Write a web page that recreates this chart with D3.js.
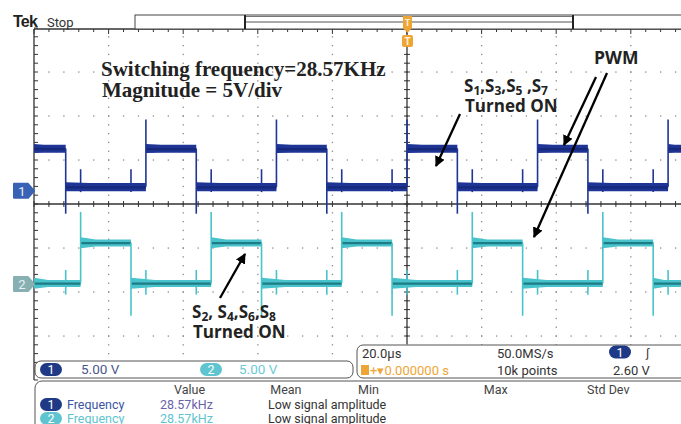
<!DOCTYPE html>
<html>
<head>
<meta charset="utf-8">
<script src="https://cdn.jsdelivr.net/npm/d3@7"></script>
<style>
body{margin:0;background:#fff}
</style>
</head>
<body>
<script>
// edge times in µs (trigger at t=0)
var ch1Rise = [-70, -35, 0, 35, 70]
var ch1Fall = [-91.5, -56.5, -21.5, 13.5, 48.5]
var ch2Rise = [-87.5, -52.5, -17.5, 17.5, 52.5]
var ch2Fall = [-74, -39, -4, 31, 66]
// [low, high] level in volts
var ch1Level = [0.45, 4.8]
var ch2Level = [0.1, 4.7]
// [undershoot at falling edge, overshoot at rising edge], volts
var ch1Spike = [-2.6, 8.1]
var ch2Spike = [-3.6, 8.2]
// small glitch caused by the other channel switching, volts
var ch1Cross = [-0.6, 2.0]
var ch2Cross = [-1.3, 1.5]

var measCols = ['Value', 'Mean', 'Min', 'Max', 'Std Dev']
var measRows = [
	{ch: '1', name: 'Frequency', value: '28.57kHz', mean: 'Low signal amplitude'},
	{ch: '2', name: 'Frequency', value: '28.57kHz', mean: 'Low signal amplitude'}
]

var width = 681, height = 424
var col1 = '#1f3595', col2 = '#48c3cb', col2b = '#1d7c85', orange = '#eea536'

var svg = d3.select('body').append('svg')
	.attr('width', width).attr('height', height)
	.attr('font-family', 'Roboto,"Liberation Sans",sans-serif')

var defs = svg.append('defs')
defs.append('marker').attr('id', 'ah')
	.attr('viewBox', '0 0 10 10').attr('refX', 9).attr('refY', 5)
	.attr('markerWidth', 4.5).attr('markerHeight', 4.5).attr('orient', 'auto')
	.append('path').attr('d', 'M0,0L10,5L0,10z').attr('fill', '#000')

// 20 µs/div, 10 div; 5 V/div, 8 div
var x = d3.scaleLinear().domain([-100, 100]).range([34, 780])
var yDiv = d3.scaleLinear().domain([-4, 4]).range([380, 28])
var offs = {1: 0.3, 2: -1.82}
function yv(ch, v) { return yDiv(offs[ch] + v / 5) }

var clipTop = 344
var g = svg.append('g')

// ---------- graticule ----------
var dots = []
for (var i = -5; i <= 5; i++) {
	for (var j = -20; j <= 20; j++) dots.push([x(i * 20), yDiv(j / 5)])
}
for (var j = -4; j <= 4; j++) {
	for (var i = -25; i <= 25; i++) dots.push([x(i * 4), yDiv(j)])
}
g.selectAll('rect.dot').data(dots.filter(d => d[0] > 35 && d[0] < 681 && d[1] > 30 && d[1] < 380))
	.enter().append('rect').attr('class', 'dot')
	.attr('x', d => d[0] - 0.6).attr('y', d => d[1] - 0.6)
	.attr('width', 1.3).attr('height', 1.3).attr('fill', '#8a8a8a')

// centre cross + frame edges
g.append('line').attr('x1', 34).attr('x2', 681).attr('y1', yDiv(0)).attr('y2', yDiv(0))
	.attr('stroke', '#333').attr('stroke-width', 1.3)
g.append('line').attr('x1', x(0)).attr('x2', x(0)).attr('y1', 29).attr('y2', clipTop)
	.attr('stroke', '#333').attr('stroke-width', 1.3)
g.append('line').attr('x1', 34).attr('x2', 34).attr('y1', 29).attr('y2', 380)
	.attr('stroke', '#333').attr('stroke-width', 1.3)
g.append('line').attr('x1', 34).attr('x2', 681).attr('y1', 29).attr('y2', 29)
	.attr('stroke', '#333').attr('stroke-width', 1.3)

var hTicks = d3.range(-100, 100.1, 4).filter(t => x(t) < 681)
g.selectAll('line.ht').data(hTicks).enter().append('line')
	.attr('x1', d => x(d)).attr('x2', d => x(d))
	.attr('y1', yDiv(0) - 3).attr('y2', yDiv(0) + 3)
	.attr('stroke', '#333')
g.selectAll('line.tt').data(hTicks).enter().append('line')
	.attr('x1', d => x(d)).attr('x2', d => x(d))
	.attr('y1', 29).attr('y2', d => d % 20 == 0 ? 34 : 32)
	.attr('stroke', '#333')
var vTicks = d3.range(-4, 4.01, 0.2)
g.selectAll('line.vt').data(vTicks.filter(d => yDiv(d) < clipTop)).enter().append('line')
	.attr('x1', x(0) - 3).attr('x2', x(0) + 3)
	.attr('y1', d => yDiv(d)).attr('y2', d => yDiv(d))
	.attr('stroke', '#333')
g.selectAll('line.lt').data(vTicks).enter().append('line')
	.attr('x1', 34).attr('x2', 38)
	.attr('y1', d => yDiv(d)).attr('y2', d => yDiv(d))
	.attr('stroke', '#333')

// ---------- traces ----------
function segments(rise, fall, startHigh) {
	var ev = rise.map(t => ({t: t, up: true})).concat(fall.map(t => ({t: t, up: false})))
		.sort((a, b) => a.t - b.t)
	var out = [], st = startHigh, t0 = -100
	ev.forEach(e => { out.push({t0: t0, t1: e.t, high: st}); st = e.up; t0 = e.t })
	out.push({t0: t0, t1: 100, high: st})
	return out
}

function drawTrace(ch, rise, fall, lvl, spike, cross, otherEdges, cOut, cIn, startHigh, hw) {
	var tg = g.append('g')
	var segs = segments(rise, fall, startHigh)
	// glitches from the other channel
	otherEdges.forEach(t => {
		var s = segs.find(d => t > d.t0 && t < d.t1)
		if (!s) return
		var v = s.high ? lvl[1] : lvl[0]
		tg.append('line').attr('x1', x(t)).attr('x2', x(t))
			.attr('y1', yv(ch, v + cross[1])).attr('y2', yv(ch, v + cross[0]))
			.attr('stroke', cOut).attr('stroke-width', 1.6)
	})
	segs.forEach(s => {
		var v = s.high ? lvl[1] : lvl[0]
		var yc = yv(ch, v), xa = x(s.t0), xb = Math.min(x(s.t1), 690)
		var xm = Math.min(xa + (xb - xa) * 0.3, xb)
		var p = d3.path()
		p.moveTo(xa, yc - hw[0]); p.lineTo(xm, yc - hw[1]); p.lineTo(xb, yc - hw[1])
		p.lineTo(xb, yc + hw[1] + 0.5); p.lineTo(xm, yc + hw[1] + 0.5); p.lineTo(xa, yc + hw[0]); p.closePath()
		tg.append('path').attr('d', p.toString()).attr('fill', cOut)
		tg.append('line').attr('x1', xa).attr('x2', xb).attr('y1', yc + 0.5).attr('y2', yc + 0.5)
			.attr('stroke', cIn).attr('stroke-width', 2.2)
	})
	rise.forEach(t => {
		tg.append('line').attr('x1', x(t)).attr('x2', x(t))
			.attr('y1', yv(ch, lvl[0])).attr('y2', yv(ch, spike[1]))
			.attr('stroke', cOut).attr('stroke-width', 1.6)
	})
	fall.forEach(t => {
		tg.append('line').attr('x1', x(t)).attr('x2', x(t))
			.attr('y1', yv(ch, lvl[1])).attr('y2', yv(ch, spike[0]))
			.attr('stroke', cOut).attr('stroke-width', 1.6)
	})
}

drawTrace(1, ch1Rise, ch1Fall, ch1Level, ch1Spike, ch1Cross, ch2Rise.concat(ch2Fall), col1, '#16287a', true, [4.5, 3.8])
drawTrace(2, ch2Rise, ch2Fall, ch2Level, ch2Spike, ch2Cross, ch1Rise.concat(ch1Fall), col2, col2b, false, [5.5, 3.2])

// channel ground markers
function chMarker(ch, fill) {
	var yc = yv(ch, 0)
	svg.append('path')
		.attr('d', 'M14,' + (yc - 7) + 'h14l6,7l-6,7h-14z')
		.attr('fill', fill).attr('stroke', fill).attr('stroke-linejoin', 'round').attr('stroke-width', 2)
	svg.append('text').attr('x', 22).attr('y', yc + 5).attr('text-anchor', 'middle')
		.attr('font-size', 13).attr('fill', '#e8eef8').text(ch)
}
chMarker(1, '#3a62b4')
chMarker(2, '#86b0b2')

// ---------- annotations ----------
var serif = '"Liberation Serif","Times New Roman",serif'
var sans = '"Open Sans",Lato,sans-serif'
svg.append('text').attr('x', 101).attr('y', 76).attr('font-family', serif)
	.attr('font-weight', 'bold').attr('font-size', 21).attr('fill', '#222')
	.text('Switching frequency=28.57KHz')
svg.append('text').attr('x', 102).attr('y', 97).attr('font-family', serif)
	.attr('font-weight', 'bold').attr('font-size', 21).attr('fill', '#222')
	.text('Magnitude = 5V/div')
svg.append('text').attr('x', 594).attr('y', 64).attr('font-family', sans)
	.attr('font-weight', 'bold').attr('font-size', 17.5).attr('fill', '#222').text('PWM')

function switchLabel(x0, y0, parts) {
	var t = svg.append('text').attr('x', x0).attr('y', y0).attr('font-family', sans)
		.attr('font-weight', 'bold').attr('font-size', 17).attr('fill', '#222')
	parts.forEach(p => {
		t.append('tspan').text(p[0])
		t.append('tspan').attr('font-size', 12).attr('dy', 3).text(p[1])
		t.append('tspan').attr('dy', -3).text(p[2])
	})
	svg.append('text').attr('x', x0 + 1).attr('y', y0 + 20).attr('font-family', sans)
		.attr('font-weight', 'bold').attr('font-size', 17).attr('fill', '#222').text('Turned ON')
}
switchLabel(464, 92, [['S', '1', ','], ['S', '3', ','], ['S', '5', ' ,'], ['S', '7', '']])
switchLabel(192, 318, [['S', '2', ', '], ['S', '4', ','], ['S', '6', ','], ['S', '8', '']])

var arrows = [[460, 114, 436, 166], [596, 77, 564, 145], [607, 73, 534, 237], [220, 298, 245, 254]]
svg.selectAll('line.arr').data(arrows).enter().append('line')
	.attr('x1', d => d[0]).attr('y1', d => d[1]).attr('x2', d => d[2]).attr('y2', d => d[3])
	.attr('stroke', '#000').attr('stroke-width', 2.3).attr('marker-end', 'url(#ah)')

// ---------- top bar ----------
svg.append('text').attr('x', 13).attr('y', 27).attr('font-family', '"Liberation Sans",Arial,sans-serif')
	.attr('font-weight', 'bold').attr('font-size', 16).attr('letter-spacing', -0.8).attr('fill', '#222').text('Tek')
svg.append('text').attr('x', 47).attr('y', 27).attr('font-size', 13).attr('fill', '#333').text('Stop')
svg.append('rect').attr('x', 135).attr('y', 15).attr('width', 560).attr('height', 14)
	.attr('fill', '#fff').attr('stroke', '#444')
svg.append('line').attr('x1', 245).attr('x2', 573).attr('y1', 22).attr('y2', 22).attr('stroke', '#555')
svg.append('line').attr('x1', 245).attr('x2', 573).attr('y1', 16.5).attr('y2', 16.5).attr('stroke', '#777')
;[245, 573].forEach(v => svg.append('line').attr('x1', v).attr('x2', v).attr('y1', 15).attr('y2', 29)
	.attr('stroke', '#222').attr('stroke-width', 2))
// trigger position markers
svg.append('path').attr('d', 'M403,16h9v12l-4.5,5l-4.5,-5z').attr('fill', orange)
svg.append('rect').attr('x', 402).attr('y', 35).attr('width', 11).attr('height', 12).attr('rx', 2).attr('fill', orange)
svg.append('text').attr('x', 407.5).attr('y', 45).attr('text-anchor', 'middle').attr('font-size', 10)
	.attr('font-weight', 'bold').attr('fill', '#fff3d8').text('T')
svg.append('text').attr('x', 407.5).attr('y', 26).attr('text-anchor', 'middle').attr('font-size', 9)
	.attr('font-weight', 'bold').attr('fill', '#fff3d8').text('T')

// ---------- bottom readouts ----------
function badge(cx, cy, ch, fill) {
	svg.append('rect').attr('x', cx - 11).attr('y', cy - 6.5).attr('width', 22).attr('height', 13)
		.attr('rx', 6.5).attr('fill', fill)
	svg.append('text').attr('x', cx).attr('y', cy + 4.5).attr('text-anchor', 'middle')
		.attr('font-size', 12.5).attr('fill', '#fff').text(ch)
}
svg.append('rect').attr('x', 35).attr('y', 361).attr('width', 318).attr('height', 17).attr('rx', 6)
	.attr('fill', '#fff').attr('stroke', '#555')
badge(51, 369.5, '1', '#1e3a86')
svg.append('text').attr('x', 81).attr('y', 374).attr('font-size', 13.5).attr('fill', '#4a5788').text('5.00 V')
badge(211, 369.5, '2', '#5ec4cf')
svg.append('text').attr('x', 239).attr('y', 374).attr('font-size', 13.5).attr('fill', '#6ccad3').text('5.00 V')

svg.append('rect').attr('x', 357).attr('y', 345).attr('width', 340).attr('height', 33).attr('rx', 6)
	.attr('fill', '#fff').attr('stroke', '#555')
svg.append('text').attr('x', 362).attr('y', 358).attr('font-size', 13).attr('fill', '#333').text('20.0µs')
svg.append('text').attr('x', 497).attr('y', 358).attr('font-size', 13).attr('fill', '#333').text('50.0MS/s')
badge(620, 352, '1', '#1e3a86')
svg.append('text').attr('x', 646).attr('y', 357).attr('font-size', 12).attr('fill', '#333').text('∫')
svg.append('rect').attr('x', 361).attr('y', 365).attr('width', 8).attr('height', 10).attr('fill', orange)
svg.append('text').attr('x', 370).attr('y', 375).attr('font-size', 13).attr('fill', orange).text('+▾0.000000 s')
svg.append('text').attr('x', 497).attr('y', 375).attr('font-size', 13).attr('fill', '#333').text('10k points')
svg.append('text').attr('x', 613).attr('y', 375).attr('font-size', 13).attr('fill', '#333').text('2.60 V')

// measurement table
svg.append('rect').attr('x', 35).attr('y', 381).attr('width', 660).attr('height', 60).attr('rx', 7)
	.attr('fill', '#fff').attr('stroke', '#555')
var colX = d3.scalePoint().domain(measCols).range([174, 587])
svg.selectAll('text.hdr').data(measCols).enter().append('text')
	.attr('x', d => d == 'Min' ? 358 : colX(d) - (d == 'Mean' ? 7 : 0)).attr('y', 394)
	.attr('font-size', 12.5).attr('fill', '#444').text(d => d)
var rowY = d3.scalePoint().domain(['1', '2']).range([409, 423])
var rowCol = {1: ['#1e3a86', '#3b55a2', '#6a62a8'], 2: ['#5ec4cf', '#5ec4cf', '#5ec4cf']}
measRows.forEach(r => {
	var yy = rowY(r.ch)
	badge(51, yy - 4.5, r.ch, rowCol[r.ch][0])
	svg.append('text').attr('x', 67).attr('y', yy).attr('font-size', 12.5).attr('fill', rowCol[r.ch][1]).text(r.name)
	svg.append('text').attr('x', 160).attr('y', yy).attr('font-size', 12.5).attr('fill', rowCol[r.ch][2]).text(r.value)
	svg.append('text').attr('x', 268).attr('y', yy).attr('font-size', 12.5).attr('fill', '#333').text(r.mean)
})
</script>
</body>
</html>
